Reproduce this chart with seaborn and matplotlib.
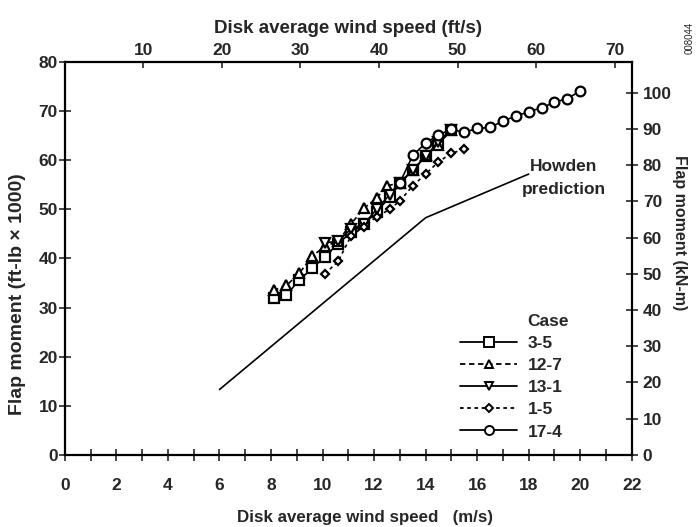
import matplotlib
matplotlib.use("Agg")
import matplotlib.pyplot as plt
import seaborn as sns
from matplotlib.lines import Line2D

# wind speed (m/s) vs flap moment (ft-lb x 1000)
case_labels = ["3-5", "12-7", "13-1", "1-5", "17-4"]

x_3_5 = [8.1, 8.6, 9.1, 9.6, 10.1, 10.6, 11.1, 11.6, 12.1, 12.6, 13.0, 13.5, 14.0, 14.5, 15.0]
y_3_5 = [32.0, 32.6, 35.6, 38.0, 40.4, 43.0, 45.3, 47.0, 49.5, 52.5, 55.4, 58.0, 60.8, 63.5, 66.2]

x_12_7 = [8.1, 8.6, 9.1, 9.6, 10.1, 10.6, 11.1, 11.6, 12.1, 12.5, 13.0, 13.5, 14.0, 14.5, 15.0]
y_12_7 = [33.5, 34.5, 37.0, 40.5, 42.5, 43.5, 47.0, 50.2, 52.3, 54.8, 55.4, 58.0, 61.0, 63.2, 66.2]

x_13_1 = [10.1, 10.6, 11.1, 11.6, 12.1, 12.6, 13.0, 13.5, 14.0, 14.5, 15.0]
y_13_1 = [43.2, 43.5, 46.0, 47.0, 50.0, 53.0, 55.4, 58.0, 60.8, 63.8, 66.2]

x_1_5 = [10.1, 10.6, 11.1, 11.6, 12.1, 12.6, 13.0, 13.5, 14.0, 14.5, 15.0, 15.5]
y_1_5 = [36.9, 39.4, 44.5, 46.5, 48.5, 50.0, 51.7, 54.8, 57.2, 59.7, 61.4, 62.3]

x_17_4 = [13.0, 13.5, 14.0, 14.5, 15.0, 15.5, 16.0, 16.5, 17.0, 17.5, 18.0, 18.5, 19.0, 19.5, 20.0]
y_17_4 = [55.4, 61.0, 63.5, 65.2, 66.3, 65.7, 66.5, 66.7, 68.0, 69.0, 69.9, 70.7, 71.8, 72.6, 74.1]

x_howden = [6.0, 14.0, 18.0]
y_howden = [13.3, 48.3, 57.2]

FT_PER_M = 3.28084
KNM_PER_KFTLB = 1.35582

sns.set_theme(style="ticks")
plt.rcParams["font.family"] = ["Liberation Sans", "DejaVu Sans"]
plt.rcParams["font.weight"] = "bold"
plt.rcParams["axes.labelweight"] = "bold"
FS = 12.5

fig = plt.figure(figsize=(6.98, 5.27), dpi=100)
ax = fig.add_axes([0.093, 0.137, 0.812, 0.745])

series = [
    (x_3_5, y_3_5, "s", "-", 7),
    (x_12_7, y_12_7, "^", (0, (3, 2)), 6.5),
    (x_13_1, y_13_1, "v", "-", 6.5),
    (x_1_5, y_1_5, "D", (0, (2, 2)), 4.5),
    (x_17_4, y_17_4, "o", "-", 7),
]
handles = []
for (xs, ys, mk, ls, ms), lab in zip(series, case_labels):
    sns.lineplot(x=xs, y=ys, ax=ax, sort=False, color="black", linewidth=1.2,
                 linestyle=ls, marker=mk, markersize=ms, markerfacecolor="white",
                 markeredgecolor="black", markeredgewidth=1.6)
    handles.append(Line2D([], [], color="black", linewidth=1.3, linestyle=ls,
                          marker=mk, markersize=ms - 0.5, markerfacecolor="white",
                          markeredgecolor="black", markeredgewidth=1.4, label=lab))

sns.lineplot(x=x_howden, y=y_howden, ax=ax, sort=False, color="black", linewidth=1.2)
ax.text(19.35, 58.7, "Howden", ha="center", va="center", fontsize=FS)
ax.text(19.35, 54.1, "prediction", ha="center", va="center", fontsize=FS)

ax.set_xlim(0, 22)
ax.set_ylim(0, 80)
ax.set_xticks(range(0, 23))
ax.set_xticklabels([str(v) if v % 2 == 0 else "" for v in range(0, 23)])
ax.set_yticks(range(0, 81, 10))
ax.tick_params(axis="x", direction="inout", length=8, width=1.2, pad=13, labelsize=FS)
ax.tick_params(axis="y", direction="inout", length=8, width=1.2, pad=1, labelsize=FS)
for s in ax.spines.values():
    s.set_linewidth(1.6)
    s.set_color("black")

ax.set_xlabel("Disk average wind speed   (m/s)", fontsize=12.2)
ax.xaxis.set_label_coords(0.53, -0.14)
ax.set_ylabel("Flap moment (ft-lb \u00d7 1000)", fontsize=14)
ax.yaxis.set_label_coords(-0.068, 0.41)

top = ax.secondary_xaxis("top", functions=(lambda v: v * FT_PER_M, lambda v: v / FT_PER_M))
top.set_xticks(range(10, 71, 10))
top.tick_params(direction="in", length=4, width=1.2, pad=3, labelsize=FS)
top.set_xlabel("Disk average wind speed (ft/s)", fontsize=13.5, labelpad=7)

right = ax.secondary_yaxis("right", functions=(lambda v: v * KNM_PER_KFTLB, lambda v: v / KNM_PER_KFTLB))
right.set_yticks(range(0, 101, 10))
right.tick_params(direction="inout", length=8, width=1.2, pad=4, labelsize=FS)
fig.text(679 / 698, 1 - 233 / 527, "Flap moment (kN-m)", rotation=-90, ha="center",
         va="center", fontsize=11.5)

leg = fig.legend(handles=handles, loc="upper left", bbox_to_anchor=(460 / 698, 1 - 336 / 527),
                 frameon=False, fontsize=FS, handlelength=3.3, handletextpad=0.6,
                 labelspacing=0.4, borderpad=0, borderaxespad=0)
fig.text(527 / 698, 1 - 322 / 527, "Case", ha="left", va="center", fontsize=FS)
fig.text(690 / 698, 1 - 38 / 527, "008044", rotation=90, ha="center", va="center",
         fontsize=7, fontweight="normal")

fig.savefig("out.png", dpi=100, facecolor="white")
